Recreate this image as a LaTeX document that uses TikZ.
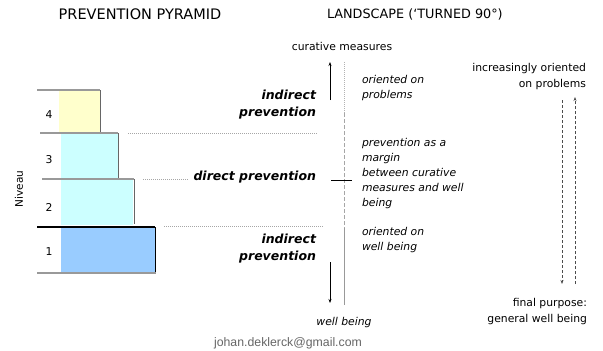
\documentclass[tikz,border=0pt]{standalone}
\usepackage{fontspec}
\setmainfont{DejaVu Sans}
\newfontfamily\arialfont{Liberation Sans}
\usetikzlibrary{arrows.meta}
\definecolor{yel}{HTML}{FFFFCC}
\definecolor{cyn}{HTML}{CCFFFF}
\definecolor{blu}{HTML}{99CCFF}
\definecolor{lvlgray}{HTML}{999999}
\definecolor{mailgray}{HTML}{666666}
\begin{document}
\begin{tikzpicture}[x=1pt,y=-1pt,
  every node/.style={inner sep=0pt, outer sep=0pt},
  title/.style={font=\fontsize{14.5}{17}\selectfont},
  lbl/.style={font=\fontsize{10.8}{15}\selectfont},
  ital/.style={font=\fontsize{10.8}{15}\selectfont\itshape, align=left, anchor=north west},
  rlbl/.style={font=\fontsize{10.8}{16}\selectfont, align=right, anchor=north east},
  bital/.style={font=\fontsize{12.5}{17}\selectfont\bfseries\itshape, align=right, anchor=north east},
  lvl/.style={draw=lvlgray, line width=1.4pt},
  edge/.style={draw=black!60, line width=0.9pt},
  dotline/.style={draw=gray!70, dash pattern=on 1pt off 1pt, line width=0.6pt},
  arr/.style={-{Stealth[length=4pt,width=3pt]}, line width=0.6pt},
  darr/.style={arr, dash pattern=on 3pt off 2pt, draw=black!70},
]
\useasboundingbox (0,0) rectangle (603,351);

% titles
\node[title] (t1) at (140,14) {PREVENTION PYRAMID};
\node[font=\fontsize{12.8}{15}\selectfont, anchor=west] (t2) at (327,14) {LANDSCAPE (‘TURNED 90°)};

% pyramid fills
\fill[yel] (59,90) rectangle (100,133);
\fill[cyn] (61,134) rectangle (118,178);
\fill[cyn] (61,180) rectangle (133,225);
\fill[blu] (61,228) rectangle (155,272);
% pyramid lines
\draw[lvl] (37,90) -- (100,90);
\draw[edge] (100,90) -- (100,133);
\draw[lvl] (40,133) -- (118,133);
\draw[edge] (118,133) -- (118,179);
\draw[lvl] (42,179) -- (134,179);
\draw[edge] (134,179) -- (134,224);
\draw[line width=1.3pt] (37,227) -- (155,227);
\draw[line width=1pt] (155,227) -- (155,273);
\draw[lvl] (37,273) -- (155.5,273);

\node[lbl] (n4) at (49,115) {4};
\node[lbl] (n3) at (49,160) {3};
\node[lbl] (n2) at (49,207) {2};
\node[lbl] (n1) at (49,252) {1};
\node[font=\fontsize{10.5}{12}\selectfont, rotate=90] (niv) at (19,189) {Niveau};

% dotted separators
\coordinate (d1a) at (128,133); \coordinate (d1b) at (318,133);
\coordinate (d2a) at (143,179); \coordinate (d2b) at (189,179);
\coordinate (d3a) at (164,226); \coordinate (d3b) at (323,226);
\draw[dotline] (d1a) -- (d1b);
\draw[dotline] (d2a) -- (d2b);
\draw[dotline] (d3a) -- (d3b);

% bold italic labels
\node[bital] (ind1) at (316,90) {indirect\\prevention};
\node[font=\fontsize{12.5}{17}\selectfont\bfseries\itshape, anchor=base east] (dir) at (316,180.5) {direct prevention};
\node[bital] (ind2) at (316,234) {indirect\\prevention};

% landscape axis
\node[lbl, anchor=base] (cur) at (342,50) {curative measures};
\node[font=\fontsize{10.8}{15}\selectfont\itshape, anchor=base] (wb) at (344,325) {well being};
\coordinate (v1) at (344,62);
\coordinate (v2) at (344,113);
\coordinate (v3) at (344,228);
\coordinate (v4) at (344,305);
\draw[gray!60, dash pattern=on 1pt off 1pt, line width=0.8pt] (v1) -- (v2);
\draw[gray!70, dash pattern=on 4pt off 2pt, line width=1pt] (v2) -- (v3);
\draw[gray!80, line width=1pt] (v3) -- (v4);
\coordinate (tk1) at (331,180); \coordinate (tk2) at (352,180);
\draw[line width=0.8pt] (tk1) -- (tk2);

\coordinate (ua) at (330,100); \coordinate (ub) at (330,62);
\draw[arr] (ua) -- (ub);
\coordinate (da) at (330,262); \coordinate (db) at (330,303);
\draw[arr] (da) -- (db);

% italic descriptions
\node[ital] (o1) at (362,75) {oriented on\\problems};
\node[ital] (o2) at (362,138) {prevention as a\\margin\\between curative\\measures and well\\being};
\node[ital] (o3) at (362,227) {oriented on\\well being};

% right side
\node[rlbl] (inc) at (586,63) {increasingly oriented\\on problems};
\node[rlbl] (fin) at (587,298) {final purpose:\\general well being};
\coordinate (r1a) at (562,100); \coordinate (r1b) at (562,284);
\coordinate (r2a) at (575,284); \coordinate (r2b) at (575,97);
\draw[darr] (r1a) -- (r1b);
\draw[darr] (r2a) -- (r2b);

% footer
\node[font=\arialfont\fontsize{12.3}{14}\selectfont, text=mailgray, anchor=base] (mail) at (288,346) {johan.deklerck@gmail.com};
\end{tikzpicture}
\end{document}
